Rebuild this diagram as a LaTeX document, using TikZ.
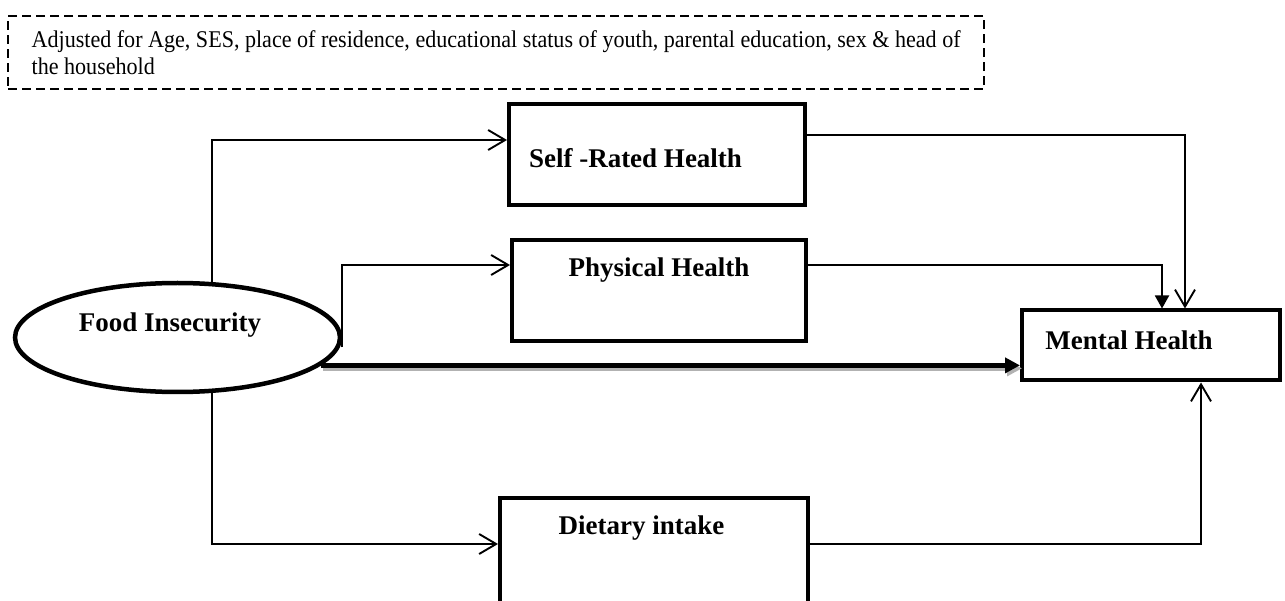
\documentclass[tikz,border=0pt]{standalone}
\usepackage{fontspec}
\setmainfont{Liberation Serif}
\newfontfamily\notefont[FakeStretch=0.92]{Liberation Serif}
\usetikzlibrary{shapes.geometric, positioning, arrows.meta}

\begin{document}
\begin{tikzpicture}[x=1pt, y=-1pt,
   box/.style={draw, rectangle, line width=4pt},
   oval/.style={draw, ellipse, line width=4.5pt, minimum width=325pt, minimum height=109pt},
   heading/.style={font=\fontsize{27}{30}\selectfont\bfseries, inner sep=0pt},
   note/.style={draw, dash pattern=on 9pt off 5pt, line width=2.2pt, align=left,
      font=\notefont\fontsize{24}{27}\selectfont, minimum width=976pt, minimum height=73pt},
   open/.style={line width=1.9pt, -{Straight Barb[length=17pt, width=20pt]}},
   filled/.style={line width=1.9pt, -{Triangle[length=13pt, width=14pt]}},
   main/.style={line width=4.5pt, -{Triangle[length=15pt, width=15pt]},
      preaction={draw=gray!60, line width=4.5pt, transform canvas={shift={(2pt,-3pt)}}}}]
   \useasboundingbox (0,0) rectangle (1285,601);
   \clip (0,0) rectangle (1285,601);

   \node[note, anchor=north west] (adj) at (7,15)
      {Adjusted for Age, SES, place of residence, educational status of youth, parental education, sex \& head of\\the household};

   \node[oval] (fi) at (177.5,337.5) {};
   \node[box, minimum width=296pt, minimum height=101pt] (srh) at (657,154.5) {};
   \node[box, minimum width=294pt, minimum height=101pt] (phy) at (659,290.5) {};
   \node[box, minimum width=258pt, minimum height=70pt] (mh) at (1151,345.5) {};
   \node[box, minimum width=308pt, minimum height=130pt] (diet) at (654,563) {};

   \node[heading] (fitext) at (170,325) {Food Insecurity};
   \node[heading] (srhtext) at (635.5,158) {Self -Rated Health};
   \node[heading] (phytext) at (659,270) {Physical Health};
   \node[heading] (mhtext) at (1129,340) {Mental Health};
   \node[heading] (diettext) at (641.5,528) {Dietary intake};

   \draw[open] (fi.58.7) |- ([yshift=14.5pt]srh.west);
   \draw[open] ([yshift=-10pt]fi.east) |- ([yshift=25.5pt]phy.west);
   \draw[open] (fi.-58) |- ([yshift=19pt]diet.west);
   \draw[main] (fi.-11) -- (fi.-11 -| mh.west);

   \draw[open] ([yshift=19.5pt]srh.east) -| ([xshift=34pt]mh.north);
   \draw[filled] ([yshift=25.5pt]phy.east) -| ([xshift=11pt]mh.north);
   \draw[open] ([yshift=19pt]diet.east) -| ([xshift=50pt]mh.south);
\end{tikzpicture}
\end{document}
